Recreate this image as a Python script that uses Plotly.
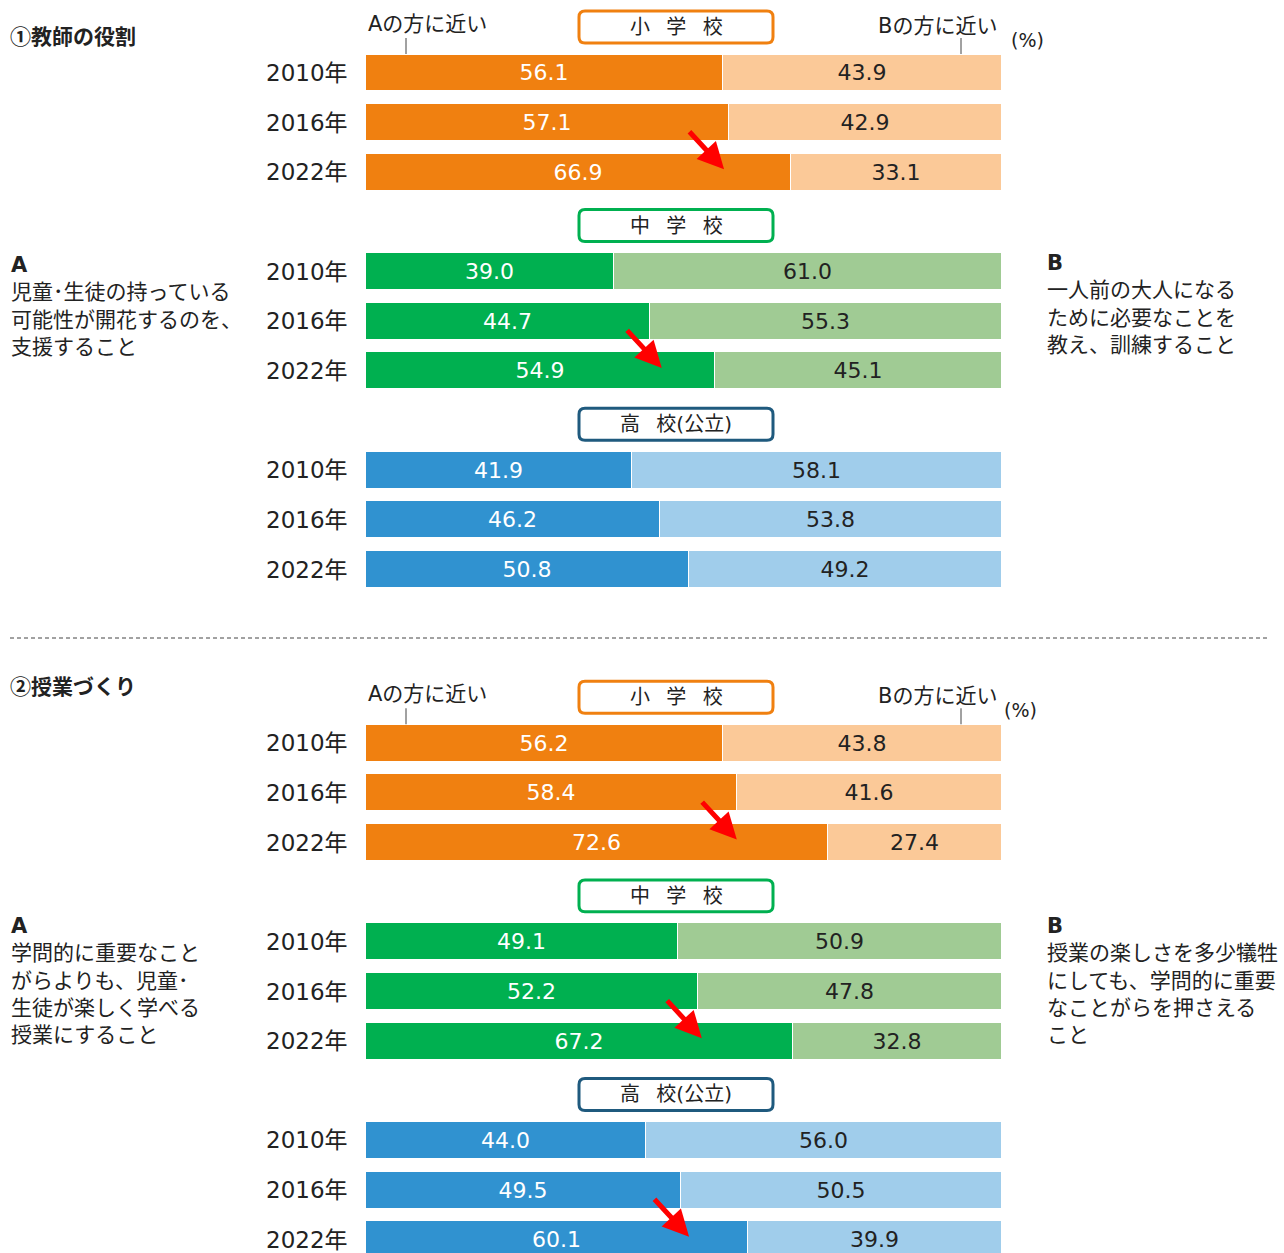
import plotly.graph_objects as go

# ---------------- data ----------------
years = ["2010年", "2016年", "2022年"]
schools = ["小 \u2002学 \u2002校", "中 \u2002学 \u2002校", "高 \u2002校(公立)"]
panel_titles = ["①教師の役割", "②授業づくり"]

# panel 1: 教師の役割 (A share, B share) ordered 小学校(2010,2016,2022), 中学校, 高校
p1_A = [56.1, 57.1, 66.9, 39.0, 44.7, 54.9, 41.9, 46.2, 50.8]
p1_B = [43.9, 42.9, 33.1, 61.0, 55.3, 45.1, 58.1, 53.8, 49.2]
# panel 2: 授業づくり
p2_A = [56.2, 58.4, 72.6, 49.1, 52.2, 67.2, 44.0, 49.5, 60.1]
p2_B = [43.8, 41.6, 27.4, 50.9, 47.8, 32.8, 56.0, 50.5, 39.9]

p1_textA = "<b>A</b><br>児童･生徒の持っている<br>可能性が開花するのを、<br>支援すること"
p1_textB = "<b>B</b><br>一人前の大人になる<br>ために必要なことを<br>教え、訓練すること"
p2_textA = "<b>A</b><br>学問的に重要なこと<br>がらよりも、児童･<br>生徒が楽しく学べる<br>授業にすること"
p2_textB = "<b>B</b><br>授業の楽しさを多少犠牲<br>にしても、学問的に重要<br>なことがらを押さえる<br>こと"

# arrow tips (x value, by panel/school)
p1_arrow_x = [56.3, 46.5, None]
p2_arrow_x = [58.3, 52.8, 50.8]

colA = ["#F08010", "#00B050", "#3092D0"]
colB = ["#FBC998", "#A0CB94", "#A0CDEB"]
boxcol = ["#F08010", "#00B050", "#1F5A7E"]

# ---------------- geometry ----------------
W, H = 1284, 1253
X0PX, SX = 366, 6.36          # px of value 0, px per unit
ROW0PX, ROWPX = 73, 49.65      # px of first row centre, px per row
panel_off = [0, 13.5]
title_px = [35, 685]
side_mid_px = [(306, 304), (980, 980)]   # vertical middle of side texts (A, B)
FONT = "DejaVu Sans, Noto Sans CJK JP"
JFONT = "Noto Sans CJK JP"
TXT = "#222222"

xrange_ = [-X0PX / SX, (W - X0PX) / SX]
yrange_ = [(H - ROW0PX) / ROWPX, -ROW0PX / ROWPX]

def dy(px):
    return px / ROWPX

def dx(px):
    return px / SX

def row_of_px(px):
    return (px - ROW0PX) / ROWPX

fig = go.Figure()

panels = [(p1_A, p1_B, p1_arrow_x, p1_textA, p1_textB),
          (p2_A, p2_B, p2_arrow_x, p2_textA, p2_textB)]

annotations = []
shapes = []

def rrect(x0, x1, y0, y1, r):
    rx, ry = dx(r), dy(r)
    return (f"M{x0+rx},{y0} L{x1-rx},{y0} Q{x1},{y0} {x1},{y0+ry} "
            f"L{x1},{y1-ry} Q{x1},{y1} {x1-rx},{y1} L{x0+rx},{y1} "
            f"Q{x0},{y1} {x0},{y1-ry} L{x0},{y0+ry} Q{x0},{y0} {x0+rx},{y0} Z")

for pi, (A, B, arrx, tA, tB) in enumerate(panels):
    off = panel_off[pi]
    rows, ca, cb = [], [], []
    for g in range(3):
        for j in range(3):
            rows.append(off + g * 4 + j)
            ca.append(colA[g])
            cb.append(colB[g])
    fig.add_trace(go.Bar(
        y=rows, x=A, orientation="h", width=0.745,
        marker=dict(color=ca, line=dict(color="white", width=1)),
        texttemplate="%{x:.1f}", textposition="inside", insidetextanchor="middle",
        textangle=0, constraintext="none",
        textfont=dict(family=FONT, size=22, color="white"),
        hoverinfo="skip", showlegend=False))
    fig.add_trace(go.Bar(
        y=rows, x=B, orientation="h", width=0.745,
        marker=dict(color=cb, line=dict(color="white", width=1)),
        texttemplate="%{x:.1f}", textposition="inside", insidetextanchor="middle",
        textangle=0, constraintext="none",
        textfont=dict(family=FONT, size=22, color=TXT),
        hoverinfo="skip", showlegend=False))

    # year labels
    for r_i, r in enumerate(rows):
        annotations.append(dict(x=-dx(16), y=r, text=years[r_i % 3], xanchor="right",
                                yanchor="middle", showarrow=False,
                                font=dict(family=FONT, size=23, color=TXT)))

    # group header boxes
    for g in range(3):
        yc = off + g * 4 - dy(46)
        shapes.append(dict(type="path", xref="x", yref="y",
                           path=rrect(dx(579 - X0PX), dx(773 - X0PX),
                                      yc - dy(16), yc + dy(16), 6),
                           fillcolor="white", line=dict(color=boxcol[g], width=3)))
        annotations.append(dict(x=dx(676 - X0PX), y=yc, text=schools[g], showarrow=False,
                                xanchor="center", yanchor="middle",
                                font=dict(family=FONT, size=20, color=TXT)))

    # A / B labels with tick lines
    annotations.append(dict(x=dx(0), y=off - dy(49), text="Aの方に近い", showarrow=False,
                            xanchor="left", yanchor="middle",
                            font=dict(family=FONT, size=21, color=TXT)))
    annotations.append(dict(x=dx(633), y=off - dy(47), text="Bの方に近い", showarrow=False,
                            xanchor="right", yanchor="middle",
                            font=dict(family=FONT, size=21, color=TXT)))
    annotations.append(dict(x=dx(643 - 7 * pi), y=off - dy(33), text="(%)", showarrow=False,
                            xanchor="left", yanchor="middle",
                            font=dict(family=FONT, size=19, color=TXT)))
    for xp in (406, 961):
        shapes.append(dict(type="line", xref="x", yref="y",
                           x0=dx(xp - X0PX), x1=dx(xp - X0PX),
                           y0=off - dy(35), y1=off - dy(19),
                           line=dict(color="#444444", width=1)))

    # title
    annotations.append(dict(x=8 / W, y=1 - title_px[pi] / H, xref="paper", yref="paper",
                            text=f"<b>{panel_titles[pi]}</b>",
                            showarrow=False, xanchor="left", yanchor="middle",
                            font=dict(family=JFONT, size=21, color=TXT)))

    # side texts
    ya, yb = side_mid_px[pi]
    annotations.append(dict(x=dx(9 - X0PX), y=row_of_px(ya), text=tA, showarrow=False,
                            xanchor="left", yanchor="middle", align="left",
                            font=dict(family=FONT, size=21, color=TXT)))
    annotations.append(dict(x=dx(1045 - X0PX), y=row_of_px(yb), text=tB, showarrow=False,
                            xanchor="left", yanchor="middle", align="left",
                            font=dict(family=FONT, size=21, color=TXT)))

    # arrows
    for g in range(3):
        if arrx[g] is None:
            continue
        annotations.append(dict(x=arrx[g], y=off + g * 4 + 2 - dy(3), ax=-36, ay=-39,
                                xref="x", yref="y", axref="pixel", ayref="pixel",
                                text="", showarrow=True, arrowhead=2, arrowsize=1.05,
                                arrowwidth=5, arrowcolor="#FF0000", standoff=0))

# dashed separator
shapes.append(dict(type="line", xref="paper", yref="paper",
                   x0=10 / W, x1=1268 / W, y0=1 - 638 / H, y1=1 - 638 / H,
                   line=dict(color="#444444", width=1, dash="4px,3px")))

fig.update_layout(
    width=W, height=H, barmode="stack",
    margin=dict(l=0, r=0, t=0, b=0),
    paper_bgcolor="white", plot_bgcolor="white",
    xaxis=dict(range=xrange_, visible=False, fixedrange=True),
    yaxis=dict(range=yrange_, visible=False, fixedrange=True),
    annotations=annotations, shapes=shapes,
    bargap=0,
)

fig.write_html("out.html", config={"displayModeBar": False},
               post_script="document.body.style.margin='0';")
